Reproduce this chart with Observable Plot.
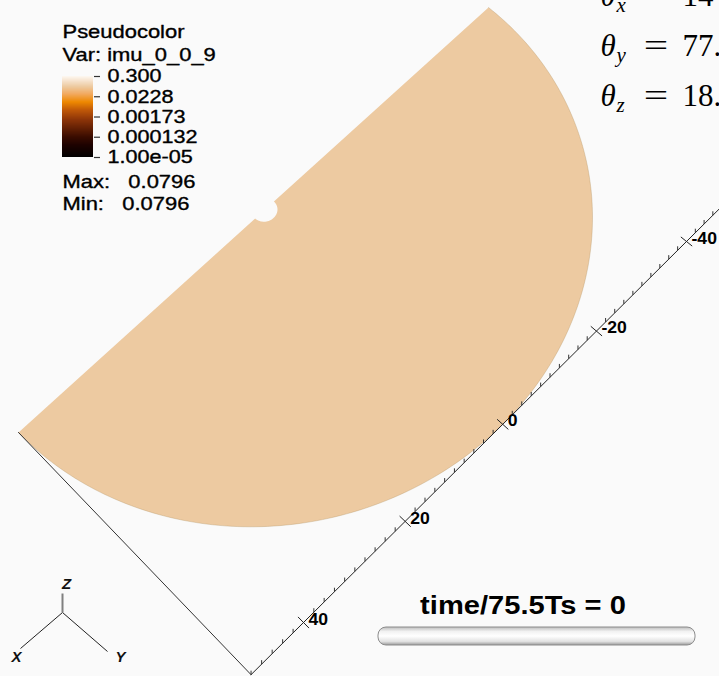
<!DOCTYPE html>
<html><head><meta charset="utf-8">
<script src="https://cdn.jsdelivr.net/npm/d3@7"></script>
<script src="https://cdn.jsdelivr.net/npm/@observablehq/plot@0.6"></script>
<style>
html,body{margin:0;padding:0;background:#fafafa;}
#wrap{position:relative;width:719px;height:676px;overflow:hidden;background:#fafafa;}
#wrap svg{position:absolute;left:0;top:0;}
</style></head><body><div id="wrap"></div>
<script>
// ---------------- data ----------------
const varName = "imu_0_0_9";
const varMax = 0.0796;
const varMin = 0.0796;
const colorbarTicks = [0.3, 0.0228, 0.00173, 0.000132, 0.00001];
const colorbarLabels = ["0.300", "0.0228", "0.00173", "0.000132", "1.00e-05"];
const colorDomain = [0.00001, 0.3];
const discRadius = 50;
const notchRadius = 2;
const axisMajorTicks = [40, 20, 0, -20, -40];
const axisMinorStep = 2;
const thetaNames = ["x", "y", "z"];
const thetaValues = ["14", "77.", "18."];
const timeLabel = "time/75.5Ts = 0";
const triadNames = ["X", "Y", "Z"];

// colour table (orangehot-like), t in [0,1]
const stopT = [0, 0.15, 0.25, 0.46, 0.58, 0.68, 0.78, 0.87, 0.94, 1];
const stopC = ["#000000", "#1e0200", "#3a0c00", "#8c3408", "#c05808", "#ee8800", "#f2aa60", "#edcaa0", "#f6e2cc", "#fdf8f2"];
const interp = d3.scaleLinear().domain(stopT).range(stopC).interpolate(d3.interpolateRgb).clamp(true);
const colorInterpolate = (t) => interp(t);

// ---------------- camera (disc plane -> screen) ----------------
const camera = [[[50, 0], [18, 432]], [[-50, 0], [488, 7]], [[40, 50], [303, 622]], [[-40, 50], [686, 241]]];
const zScreen = [0, -5];
function solveHomography(pairs) {
  const A = [], b = [];
  for (const [[u, v], [X, Y]] of pairs) {
    A.push([u, v, 1, 0, 0, 0, -u * X, -v * X]); b.push(X);
    A.push([0, 0, 0, u, v, 1, -u * Y, -v * Y]); b.push(Y);
  }
  const n = 8;
  for (let i = 0; i < n; i++) {
    let p = i;
    for (let r = i + 1; r < n; r++) if (Math.abs(A[r][i]) > Math.abs(A[p][i])) p = r;
    [A[i], A[p]] = [A[p], A[i]]; [b[i], b[p]] = [b[p], b[i]];
    for (let r = 0; r < n; r++) {
      if (r === i) continue;
      const f = A[r][i] / A[i][i];
      for (let c = i; c < n; c++) A[r][c] -= f * A[i][c];
      b[r] -= f * b[i];
    }
  }
  const h = b.map((v, i) => v / A[i][i]);
  return (u, v) => {
    const w = h[6] * u + h[7] * v + 1;
    return [(h[0] * u + h[1] * v + h[2]) / w, (h[3] * u + h[4] * v + h[5]) / w];
  };
}
const H = solveHomography(camera);
const P = (u, v, z = 0) => { const [X, Y] = H(u, v); return {X: X + z * zScreen[0], Y: Y + z * zScreen[1]}; };

// ---------------- geometry ----------------
const R = discRadius;
const arcPts = d3.range(0, 181).map(i => { const a = i * Math.PI / 180; return P(R * Math.cos(a), R * Math.sin(a)); });
const notchPts = d3.range(0, 37).map(i => { const a = Math.PI - i * Math.PI / 36; return P(notchRadius * Math.cos(a), notchRadius * Math.sin(a)); });
const discPts = [...arcPts, P(-R, 0), ...notchPts, P(R, 0)];
const axisLine = [P(R, R), P(-62, R)];
const edgeLine = [P(R, 0), P(R, R)];
const minorTicks = d3.range(-R, R + 1, axisMinorStep).filter(u => !axisMajorTicks.includes(u))
  .map(u => { const a = P(u, R), b = P(u, R, 0.8); return {x1: a.X, y1: a.Y, x2: b.X, y2: b.Y}; });
const majorTicks = axisMajorTicks.map(u => { const a = P(u, R - 1.1), b = P(u, R + 1.1), c = P(u, R); return {x1: a.X, y1: a.Y, x2: b.X, y2: b.Y, X: c.X, Y: c.Y, label: String(u)}; });

// screen-space layout of overlays
const triadO = {X: 62, Y: 612};
const triadEnds = {X: [20, 648], Y: [107, 651], Z: [62, 593]};
const triadLabelPos = {X: [16, 657], Y: [120, 657], Z: [66, 584]};

const sans = "Liberation Sans, Arial, Helvetica, sans-serif";
const serif = "Liberation Serif, Times New Roman, serif";
const gap = "\u00a0\u00a0 ";

const main = Plot.plot({
  width: 719, height: 676, margin: 0,
  style: {background: "transparent", overflow: "visible"},
  x: {domain: [0, 719], range: [0, 719], axis: null},
  y: {domain: [0, 676], range: [0, 676], axis: null},
  color: {type: "log", domain: colorDomain, interpolate: colorInterpolate},
  marks: [
    Plot.line(discPts, {x: "X", y: "Y", fill: () => varMin, stroke: "none", curve: "linear"}),
    Plot.line(arcPts, {x: "X", y: "Y", stroke: "#b0905f", strokeWidth: 0.6, strokeOpacity: 0.55}),
    Plot.line(edgeLine, {x: "X", y: "Y", stroke: "#333", strokeWidth: 1}),
    Plot.line(axisLine, {x: "X", y: "Y", stroke: "#222", strokeWidth: 1}),
    Plot.link(minorTicks, {x1: "x1", y1: "y1", x2: "x2", y2: "y2", stroke: "#333", strokeWidth: 1}),
    Plot.link(majorTicks, {x1: "x1", y1: "y1", x2: "x2", y2: "y2", stroke: "#222", strokeWidth: 1}),
    Plot.text(majorTicks, {x: "X", y: "Y", text: "label", dx: 5, dy: -3, textAnchor: "start", fontFamily: sans, fontWeight: "bold", fontSize: 16, fill: "#000", ariaDescription: "stretch-110"}),
    // triad
    Plot.link(["X", "Y"], {x1: () => triadO.X, y1: () => triadO.Y, x2: d => triadEnds[d][0], y2: d => triadEnds[d][1], stroke: "#222", strokeWidth: 1}),
    Plot.link(["Z"], {x1: () => triadO.X, y1: () => triadO.Y, x2: d => triadEnds[d][0], y2: d => triadEnds[d][1], stroke: "#808080", strokeWidth: 2}),
    Plot.text(triadNames, {x: d => triadLabelPos[d][0], y: d => triadLabelPos[d][1], text: d => d, fontFamily: sans, fontWeight: "bold", fontStyle: "italic", fontSize: 15, fill: "#111"}),
    // legend texts
    Plot.text(["Pseudocolor", "Var: " + varName, "Max:" + gap + varMax, "Min:" + gap + varMin],
      {x: () => 62, y: (d, i) => [37, 60, 187, 209][i], text: d => d, textAnchor: "start", lineAnchor: "bottom", fontFamily: sans, fontSize: 18, fill: "#000", stroke: "#000", strokeWidth: 0.35, ariaDescription: "stretch-122"}),
    // theta annotations
    Plot.text(thetaNames, {x: () => 600, y: (d, i) => 5 + 50 * i, text: () => "\u03b8", textAnchor: "start", lineAnchor: "bottom", fontFamily: serif, fontStyle: "italic", fontSize: 31, fill: "#000"}),
    Plot.text(thetaNames, {x: () => 616, y: (d, i) => 11 + 50 * i, text: d => d, textAnchor: "start", lineAnchor: "bottom", fontFamily: serif, fontStyle: "italic", fontSize: 21, fill: "#000"}),
    Plot.text(thetaNames, {x: () => 655.5, y: (d, i) => 5 + 50 * i, text: () => "=", textAnchor: "middle", lineAnchor: "bottom", fontFamily: serif, fontSize: 31, fill: "#000", ariaDescription: "stretch-140"}),
    Plot.text(thetaValues, {x: () => 682, y: (d, i) => 5 + 50 * i, text: d => d, textAnchor: "start", lineAnchor: "bottom", fontFamily: serif, fontSize: 31, fill: "#000"}),
    // time slider
    Plot.text([timeLabel], {x: () => 522.5, y: () => 613, text: d => d, textAnchor: "middle", lineAnchor: "bottom", fontFamily: sans, fontWeight: "bold", fontSize: 26, fill: "#000", ariaDescription: "stretch-112"}),
    Plot.rect([0], {x1: () => 378, x2: () => 695, y1: () => 627, y2: () => 645, rx: 8, fill: "url(#sliderGrad)", stroke: "#8c8c8c", strokeWidth: 1})
  ]
});

const legend = Plot.plot({
  width: 240, height: 220, margin: 0,
  style: {background: "transparent", overflow: "visible"},
  x: {domain: [0, 240], range: [0, 240], axis: null},
  y: {type: "log", domain: colorDomain, range: [157, 76], axis: null},
  color: {type: "log", domain: colorDomain, interpolate: colorInterpolate},
  marks: [
    Plot.rect(d3.range(81).map(i => {
      const lo = Math.log10(colorDomain[0]), hi = Math.log10(colorDomain[1]);
      return {y1: 10 ** (lo + i * (hi - lo) / 81), y2: 10 ** (lo + (i + 1) * (hi - lo) / 81)};
    }), {x1: () => 62, x2: () => 93, y1: "y1", y2: "y2", fill: d => Math.sqrt(d.y1 * d.y2), shapeRendering: "crispEdges", inset: -0.3}),
    Plot.ruleY(colorbarTicks, {y: d => d, x1: () => 94, x2: () => 100, stroke: "#333", strokeWidth: 1.2}),
    Plot.text(colorbarTicks, {x: () => 107, y: d => d, text: (d, i) => colorbarLabels[i], textAnchor: "start", fontFamily: sans, fontSize: 18, fill: "#000", stroke: "#000", strokeWidth: 0.35, ariaDescription: "stretch-120"})
  ]
});

function stretchTexts(svg) {
  svg.querySelectorAll("g[aria-description^='stretch-']").forEach(g => {
    const s = (+g.getAttribute("aria-description").split("-")[1]) / 100;
    g.querySelectorAll("text").forEach(t => {
      const tr = t.getAttribute("transform");
      const x = t.getAttribute("x"), y = t.getAttribute("y");
      if (tr && !x) t.setAttribute("transform", tr + ` scale(${s},1)`);
      else {
        const xx = +x || 0, yy = +y || 0;
        t.setAttribute("transform", `${tr || ""} translate(${xx},${yy}) scale(${s},1) translate(${-xx},${-yy})`);
      }
    });
  });
}
stretchTexts(main); stretchTexts(legend);

// slider gradient
const ns = "http://www.w3.org/2000/svg";
const defs = document.createElementNS(ns, "defs");
defs.innerHTML = `<linearGradient id="sliderGrad" x1="0" y1="0" x2="0" y2="1">
  <stop offset="0" stop-color="#bdbdbd"/><stop offset="0.25" stop-color="#f2f2f2"/>
  <stop offset="0.5" stop-color="#ffffff"/><stop offset="0.8" stop-color="#e2e2e2"/>
  <stop offset="1" stop-color="#9a9a9a"/></linearGradient>`;
main.insertBefore(defs, main.firstChild);

const wrap = document.getElementById("wrap");
wrap.appendChild(main);
wrap.appendChild(legend);
</script></body></html>
